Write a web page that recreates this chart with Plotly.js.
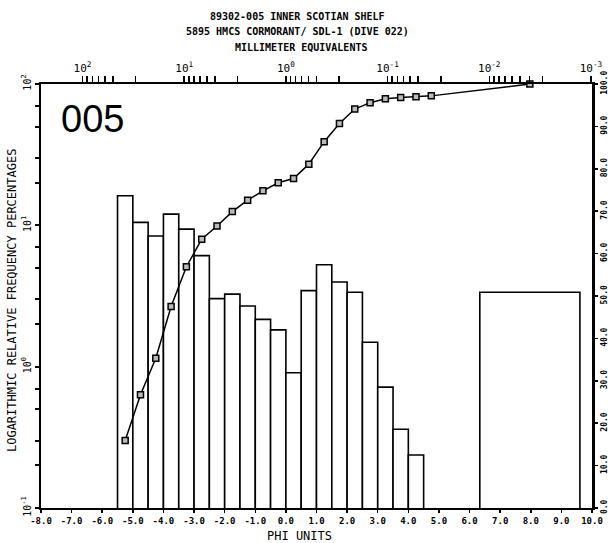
<!DOCTYPE html>
<html>
<head>
<meta charset="utf-8">
<script src="https://cdn.plot.ly/plotly-3.0.1.min.js"></script>
<style>html,body{margin:0;padding:0;background:#fff;}#chart{width:608px;height:543px;}</style>
</head>
<body>
<div id="chart"></div>
<script>
// Grain-size classes (phi midpoints, 0.5 phi wide) and relative frequency percentages
var binCenters = [-5.25,-4.75,-4.25,-3.75,-3.25,-2.75,-2.25,-1.75,-1.25,-0.75,-0.25,0.25,0.75,1.25,1.75,2.25,2.75,3.25,3.75,4.25];
var binPct     = [16.2,10.5,8.4,12.0,9.4,6.1,3.03,3.26,2.69,2.16,1.82,0.905,3.45,5.26,3.97,3.36,1.49,0.717,0.361,0.237];
// Fines (pan) fraction
var finesCenter = [7.97];
var finesWidth  = [3.27];
var finesPct    = [3.36];
// Cumulative percentage curve
var cumPhi = [-5.25,-4.75,-4.25,-3.75,-3.25,-2.75,-2.25,-1.75,-1.25,-0.75,-0.25,0.25,0.75,1.25,1.75,2.25,2.75,3.25,3.75,4.25,4.75,7.97];
var cumPct = [15.9,26.7,35.3,47.5,56.9,63.4,66.5,69.9,72.6,74.8,76.7,77.7,81.1,86.4,90.7,94.1,95.6,96.5,96.8,97.0,97.2,100];
// Tick labels
var phiTicks = [-8,-7,-6,-5,-4,-3,-2,-1,0,1,2,3,4,5,6,7,8,9,10];
var phiTickText = ["-8.0","-7.0","-6.0","-5.0","-4.0","-3.0","-2.0","-1.0","0.0","1.0","2.0","3.0","4.0","5.0","6.0","7.0","8.0","9.0","10.0"];
var mmTicks = [100,10,1,0.1,0.01,0.001];
var mmTickText = ["10<sup>2</sup>","10<sup>1</sup>","10<sup>0</sup>","10<sup>-1</sup>","10<sup>-2</sup>","10<sup>-3</sup>"];
var mmMinor = [90,80,70,60,50,30,9,8,7,6,5,3,0.9,0.8,0.7,0.6,0.5,0.3,0.09,0.08,0.07,0.06,0.05,0.03,0.009,0.008,0.007,0.006,0.005,0.004,0.003];
var freqTicks = [0.1,1,10,100];
var freqTickText = ["10<sup>-1</sup>","10<sup>0</sup>","10<sup>1</sup>","10<sup>2</sup>"];
var freqMinor = [0.2,0.3,0.5,0.7,2,3,5,7,20,30,50,70];
var cumTicks = [0,10,20,30,40,50,60,70,80,90,100];
var cumTickText = ["0.0","10.0","20.0","30.0","40.0","50.0","60.0","70.0","80.0","90.0","100.0"];

var mono = "DejaVu Sans Mono";
var barWidths = binCenters.map(function(){return 0.5;});
var mmRange = [Math.log10(256), Math.log10(Math.pow(2,-10))];
var mmAllVals = mmTicks.concat(mmMinor);
var mmAllText = mmTickText.concat(mmMinor.map(function(){return '';}));
var freqAllVals = freqTicks.concat(freqMinor);
var freqAllText = freqTickText.concat(freqMinor.map(function(){return '';}));

var traces = [
  {type:'bar', x:binCenters, y:binPct, width:barWidths, xaxis:'x', yaxis:'y',
   marker:{color:'#ffffff', line:{color:'#000', width:1.6}}},
  {type:'bar', x:finesCenter, y:finesPct, width:finesWidth, xaxis:'x', yaxis:'y',
   marker:{color:'#ffffff', line:{color:'#000', width:1.6}}},
  {type:'scatter', mode:'lines+markers', x:cumPhi, y:cumPct, xaxis:'x', yaxis:'y2',
   line:{color:'#000', width:1.5},
   marker:{symbol:'square', size:6, color:'#bbbbbb', line:{color:'#000', width:1.5}}, cliponaxis:false},
  {type:'scatter', mode:'markers', x:[1], y:[1], xaxis:'x2', yaxis:'y', marker:{opacity:0}, hoverinfo:'skip'}
];

var layout = {
  width:608, height:543,
  margin:{l:41, r:16, t:84, b:35},
  paper_bgcolor:'#fff', plot_bgcolor:'#fff',
  showlegend:false, bargap:0, barmode:'overlay',
  font:{family:mono, color:'#000', size:9},
  xaxis:{range:[-8,10], tickvals:phiTicks, ticktext:phiTickText, ticks:'outside', ticklen:3, tickwidth:1.5, tickcolor:'#000',
         showline:true, linecolor:'#000', linewidth:2, showgrid:false, zeroline:false,
         tickfont:{family:mono, size:9, weight:'bold'}},
  xaxis2:{type:'log', overlaying:'x', side:'top', range:mmRange,
          tickvals:mmAllVals, ticktext:mmAllText, ticks:'outside', ticklen:6, tickwidth:1.5, tickcolor:'#000',
          showline:true, linecolor:'#000', linewidth:2, showgrid:false, zeroline:false,
          tickfont:{family:mono, size:11}},
  yaxis:{type:'log', range:[-1,2], tickvals:freqAllVals, ticktext:freqAllText, ticks:'outside', ticklen:4, tickwidth:2, tickcolor:'#000',
         tickangle:-90, showline:true, linecolor:'#000', linewidth:2.5, showgrid:false, zeroline:false,
         tickfont:{family:mono, size:10}},
  yaxis2:{overlaying:'y', side:'right', range:[0,100], tickvals:cumTicks, ticktext:cumTickText,
          ticks:'outside', ticklen:3, tickwidth:1.5, tickcolor:'#000', tickangle:-90,
          showline:true, linecolor:'#000', linewidth:2.5, showgrid:false, zeroline:false,
          tickfont:{family:mono, size:8, weight:'bold'}},
  annotations:[
    {text:'89302-005 INNER SCOTIAN SHELF', xref:'paper', yref:'paper', x:0.466, y:1.160, showarrow:false,
     font:{family:mono, size:10, weight:'bold'}, xanchor:'center', yanchor:'middle'},
    {text:'5895 HMCS CORMORANT/ SDL-1 (DIVE 022)', xref:'paper', yref:'paper', x:0.466, y:1.123, showarrow:false,
     font:{family:mono, size:10, weight:'bold'}, xanchor:'center', yanchor:'middle'},
    {text:'MILLIMETER EQUIVALENTS', xref:'paper', yref:'paper', x:0.472, y:1.085, showarrow:false,
     font:{family:mono, size:10, weight:'bold'}, xanchor:'center', yanchor:'middle'},
    {text:'PHI UNITS', xref:'paper', yref:'paper', x:0.47, y:-0.066, showarrow:false,
     font:{family:mono, size:12}, xanchor:'center', yanchor:'middle'},
    {text:'LOGARITHMIC RELATIVE FREQUENCY PERCENTAGES', xref:'paper', yref:'paper', x:-0.053, y:0.49, textangle:-90,
     showarrow:false, font:{family:mono, size:12}, xanchor:'center', yanchor:'middle'},
    {text:'005', xref:'paper', yref:'paper', x:0.0926, y:0.917, showarrow:false,
     font:{family:'Liberation Sans', size:38}, xanchor:'center', yanchor:'middle'}
  ]
};

Plotly.newPlot('chart', traces, layout, {displayModeBar:false, staticPlot:true});
</script>
</body>
</html>
